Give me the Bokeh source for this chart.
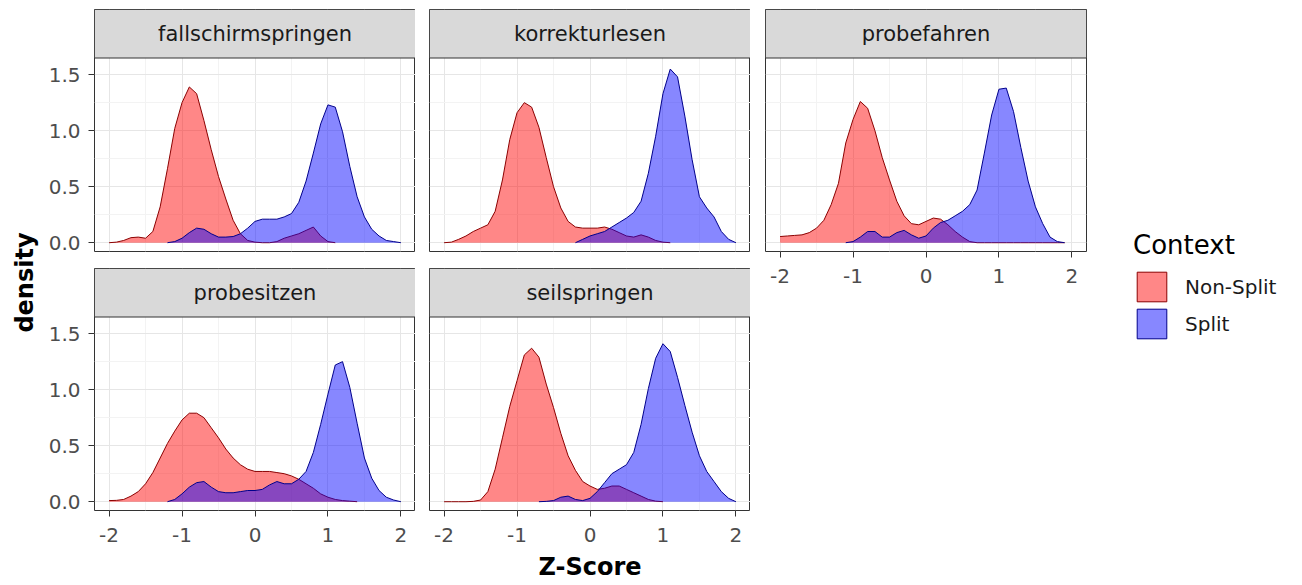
import math

from bokeh.embed import file_html
from bokeh.layouts import column, row
from bokeh.models import (BoxAnnotation, FixedTicker, Label, Legend, LegendItem,
                          PrintfTickFormatter, Range1d, Spacer)
from bokeh.plotting import figure
from bokeh.resources import INLINE

# ---------------------------------------------------------------- data
# Evaluation grid of the kernel density estimates (Z-score)
X = [-2.0, -1.9, -1.8, -1.7, -1.6, -1.5, -1.4, -1.3, -1.2, -1.1,
     -1.0, -0.9, -0.8, -0.7, -0.6, -0.5, -0.4, -0.3, -0.2, -0.1,
     0.0, 0.1, 0.2, 0.3, 0.4, 0.5, 0.6, 0.7, 0.8, 0.9,
     1.0, 1.1, 1.2, 1.3, 1.4, 1.5, 1.6, 1.7, 1.8, 1.9, 2.0]

VERBS = ["fallschirmspringen", "korrekturlesen", "probefahren",
         "probesitzen", "seilspringen"]
CONTEXTS = ["Non-Split", "Split"]

# density per verb and context; None = outside the range of the data
fall_nonsplit = [0.0, 0.005, 0.02, 0.045, 0.05, 0.04, 0.10, 0.32, 0.66, 1.02,
                 1.25, 1.39, 1.33, 1.09, 0.83, 0.59, 0.39, 0.20, 0.08, 0.02,
                 0.005, 0.0, 0.0, 0.01, 0.04, 0.06, 0.08, 0.11, 0.14, 0.06,
                 0.01, 0.0, None, None, None, None, None, None, None, None, None]
fall_split = [None, None, None, None, None, None, None, None, 0.0, 0.01,
              0.04, 0.09, 0.13, 0.12, 0.08, 0.05, 0.05, 0.055, 0.08, 0.13,
              0.19, 0.21, 0.21, 0.21, 0.23, 0.26, 0.36, 0.55, 0.80, 1.06,
              1.23, 1.21, 0.99, 0.68, 0.41, 0.23, 0.12, 0.06, 0.02, 0.01, 0.0]

korr_nonsplit = [0.0, 0.005, 0.03, 0.06, 0.10, 0.13, 0.16, 0.28, 0.56, 0.92,
                 1.16, 1.25, 1.21, 1.03, 0.76, 0.50, 0.31, 0.19, 0.14, 0.13,
                 0.13, 0.13, 0.14, 0.12, 0.09, 0.06, 0.05, 0.07, 0.05, 0.02,
                 0.005, 0.0, None, None, None, None, None, None, None, None, None]
korr_split = [None, None, None, None, None, None, None, None, None, None,
              None, None, None, None, None, None, None, None, 0.0, 0.03,
              0.06, 0.08, 0.10, 0.14, 0.18, 0.22, 0.27, 0.37, 0.62, 0.95,
              1.33, 1.55, 1.48, 1.13, 0.74, 0.41, 0.31, 0.23, 0.10, 0.03, 0.0]

probef_nonsplit = [0.055, 0.06, 0.065, 0.07, 0.09, 0.13, 0.20, 0.34, 0.53, 0.89,
                   1.10, 1.26, 1.20, 1.00, 0.76, 0.56, 0.37, 0.24, 0.17, 0.16,
                   0.19, 0.22, 0.21, 0.16, 0.10, 0.05, 0.01, 0.0, 0.0, 0.0,
                   0.0, 0.0, 0.0, 0.0, 0.0, 0.0, 0.0, 0.0, 0.0, 0.0, None]
probef_split = [None, None, None, None, None, None, None, None, None, 0.0,
                0.01, 0.05, 0.10, 0.10, 0.05, 0.05, 0.09, 0.11, 0.07, 0.04,
                0.06, 0.13, 0.18, 0.20, 0.24, 0.28, 0.34, 0.47, 0.80, 1.14,
                1.37, 1.38, 1.17, 0.85, 0.55, 0.32, 0.17, 0.05, 0.01, 0.0, None]

probes_nonsplit = [0.01, 0.012, 0.02, 0.05, 0.09, 0.16, 0.26, 0.39, 0.52, 0.63,
                   0.73, 0.79, 0.79, 0.75, 0.66, 0.57, 0.47, 0.39, 0.33, 0.29,
                   0.27, 0.27, 0.27, 0.26, 0.25, 0.23, 0.20, 0.16, 0.12, 0.07,
                   0.04, 0.02, 0.01, 0.005, 0.0, None, None, None, None, None, None]
probes_split = [None, None, None, None, None, None, None, None, 0.0, 0.02,
                0.07, 0.13, 0.17, 0.18, 0.13, 0.09, 0.08, 0.08, 0.09, 0.10,
                0.10, 0.11, 0.15, 0.18, 0.16, 0.16, 0.20, 0.27, 0.44, 0.69,
                0.96, 1.22, 1.25, 1.02, 0.70, 0.39, 0.21, 0.10, 0.04, 0.015, 0.0]

seil_nonsplit = [0.0, 0.0, 0.0, 0.0, 0.003, 0.015, 0.09, 0.29, 0.57, 0.85,
                 1.08, 1.31, 1.37, 1.29, 1.05, 0.84, 0.61, 0.41, 0.28, 0.18,
                 0.14, 0.11, 0.12, 0.14, 0.14, 0.11, 0.08, 0.05, 0.02, 0.005,
                 0.0, None, None, None, None, None, None, None, None, None, None]
seil_split = [None, None, None, None, None, None, None, None, None, None,
              None, None, None, 0.0, 0.003, 0.01, 0.04, 0.05, 0.02, 0.01,
              0.03, 0.09, 0.17, 0.25, 0.29, 0.33, 0.44, 0.69, 1.01, 1.28,
              1.41, 1.34, 1.11, 0.86, 0.62, 0.41, 0.27, 0.18, 0.09, 0.03, 0.0]

DENSITY = {
    "fallschirmspringen": (fall_nonsplit, fall_split),
    "korrekturlesen": (korr_nonsplit, korr_split),
    "probefahren": (probef_nonsplit, probef_split),
    "probesitzen": (probes_nonsplit, probes_split),
    "seilspringen": (seil_nonsplit, seil_split),
}

X_TICKS = [-2, -1, 0, 1, 2]
X_MINOR = [-1.5, -0.5, 0.5, 1.5]
Y_TICKS = [0.0, 0.5, 1.0, 1.5]
Y_MINOR = [0.25, 0.75, 1.25]

# ---------------------------------------------------------------- style
FILL = {"Non-Split": "#FF0000", "Split": "#0000FF"}
EDGE = {"Non-Split": "#8B0000", "Split": "#00008B"}
FONT = "DejaVu Sans"

X_LO, X_HI = -2.2, 2.2
Y_LO, Y_HI = -0.0785, 1.6485          # data limits incl. 5 % expansion
FRAME_W, FRAME_H = 321, 242           # strip + panel
PANEL_H = 193.5                       # panel part of the frame, px
Y_TOP = Y_LO + (Y_HI - Y_LO) * FRAME_H / PANEL_H   # top of the strip


def style_axis(ax, standoff):
    ax.axis_line_color = None
    ax.major_tick_line_color = "#333333"
    ax.major_tick_out = 6
    ax.major_tick_in = 0
    ax.minor_tick_line_color = None
    ax.major_label_text_font = FONT
    ax.major_label_text_font_size = "20px"
    ax.major_label_text_color = "#4D4D4D"
    ax.major_label_standoff = standoff


def facet(name, left, right, top, bottom, show_x, show_y, xlabel=None):
    p = figure(frame_width=FRAME_W, frame_height=FRAME_H,
               min_border_left=left, min_border_right=right,
               min_border_top=top, min_border_bottom=bottom,
               x_range=Range1d(X_LO, X_HI), y_range=Range1d(Y_LO, Y_TOP),
               x_axis_location="below" if show_x else None,
               y_axis_location="left" if show_y else None,
               toolbar_location=None, output_backend="svg")
    p.background_fill_color = "white"
    p.border_fill_color = "white"
    p.outline_line_color = "#333333"
    p.outline_line_width = 1

    xt = FixedTicker(ticks=X_TICKS, minor_ticks=X_MINOR)
    yt = FixedTicker(ticks=Y_TICKS, minor_ticks=Y_MINOR)
    for g, t in ((p.xgrid, xt), (p.ygrid, yt)):
        g.ticker = t
        g.grid_line_color = "#E6E6E6"
        g.grid_line_width = 1
        g.minor_grid_line_color = "#F3F3F3"
        g.minor_grid_line_width = 1

    if show_x:
        p.xaxis.ticker = xt
        p.xaxis.formatter = PrintfTickFormatter(format="%d")
        style_axis(p.xaxis[0], 11)
        if xlabel:
            p.xaxis.axis_label = xlabel
            p.xaxis.axis_label_text_font = FONT
            p.xaxis.axis_label_text_font_size = "24px"
            p.xaxis.axis_label_text_font_style = "bold"
            p.xaxis.axis_label_text_color = "black"
            p.xaxis.axis_label_standoff = 8
    if show_y:
        p.yaxis.ticker = yt
        p.yaxis.formatter = PrintfTickFormatter(format="%.1f")
        style_axis(p.yaxis[0], 8)

    for ctx, vals in zip(CONTEXTS, DENSITY[name]):
        xs = [x for x, d in zip(X, vals) if d is not None]
        ds = [d for d in vals if d is not None]
        p.varea(x=xs, y1=0, y2=ds, fill_color=FILL[ctx], fill_alpha=0.47)
        p.line(xs, ds, line_color=EDGE[ctx], line_width=1)

    # facet strip
    p.add_layout(BoxAnnotation(left=X_LO, right=X_HI, bottom=Y_HI, top=Y_TOP,
                               fill_color="#D9D9D9", fill_alpha=1.0,
                               line_color="#333333", line_width=1, line_alpha=1.0))
    p.add_layout(Label(x=0, y=(Y_HI + Y_TOP) / 2, text=name,
                       text_align="center", text_baseline="middle",
                       text_font=FONT, text_font_size="21px",
                       text_color="#1A1A1A"))
    return p


f1 = facet(VERBS[0], 52, 0, 9, 17, False, True)
f2 = facet(VERBS[1], 14, 0, 9, 17, False, False)
f3 = facet(VERBS[2], 15, 5, 9, 45, True, False)
f4 = facet(VERBS[3], 52, 0, 0, 75, True, True)
f5 = facet(VERBS[4], 14, 0, 0, 75, True, False, xlabel="Z-Score")

# shared y-axis title
ylab = figure(width=42, height=585, x_range=Range1d(0, 42), y_range=Range1d(0, 585),
              min_border=0, x_axis_location=None, y_axis_location=None,
              toolbar_location=None, output_backend="svg")
ylab.grid.grid_line_color = None
ylab.outline_line_color = None
ylab.add_layout(Label(x=24, y=303, text="density", angle=math.pi / 2,
                      text_align="center", text_baseline="middle",
                      text_font=FONT, text_font_size="24px",
                      text_font_style="bold", text_color="black"))

# legend column; the key quads sit outside the visible range
leg = figure(width=211, height=585, x_range=Range1d(0, 1), y_range=Range1d(0, 1),
             min_border=0, x_axis_location=None, y_axis_location=None,
             toolbar_location=None, output_backend="svg")
leg.grid.grid_line_color = None
leg.outline_line_color = None
items = []
for ctx in CONTEXTS:
    r = leg.quad(left=[5], right=[6], top=[6], bottom=[5], fill_color=FILL[ctx],
                 fill_alpha=0.47, line_color=EDGE[ctx], line_width=1)
    items.append(LegendItem(label=ctx, renderers=[r]))
legend = Legend(items=items, title="Context", location=(42, 243),
                orientation="vertical", padding=0, margin=0, spacing=0,
                glyph_width=37, glyph_height=37, label_height=37,
                label_standoff=15, border_line_color=None,
                background_fill_alpha=0,
                title_text_font=FONT, title_text_font_size="26px",
                title_text_font_style="normal", title_text_color="black",
                title_standoff=8,
                label_text_font=FONT, label_text_font_size="20px",
                label_text_color="#1A1A1A")
leg.add_layout(legend)

layout = row(ylab,
             column(row(f1, f2), row(f4, f5)),
             column(f3, Spacer(width=341, height=585 - 296)),
             leg)

open("out.html", "w").write(file_html(layout, INLINE, title="density by context"))
